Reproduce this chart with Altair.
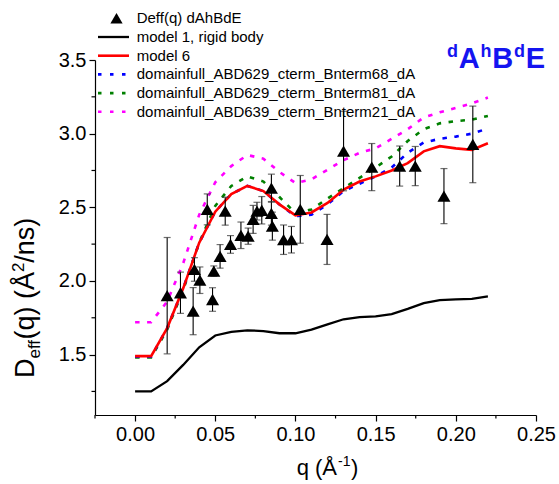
import altair as alt
import pandas as pd

# ---------------- data ----------------
q_data = [0.0200, 0.0283, 0.0362, 0.0370, 0.0404, 0.0450, 0.0483, 0.0491, 0.0530, 0.0562,
          0.0595, 0.0660, 0.0705, 0.0736, 0.0760, 0.0790, 0.0850, 0.0850, 0.0856, 0.0926,
          0.0975, 0.1030, 0.1197, 0.1300, 0.1476, 0.1650, 0.1747, 0.1926, 0.2106]
d_data = [1.900, 1.920, 1.795, 2.078, 2.005, 2.486, 1.874, 2.067, 2.167, 2.474,
          2.248, 2.310, 2.304, 2.418, 2.474, 2.480, 2.630, 2.459, 2.372, 2.280,
          2.280, 2.486, 2.282, 2.882, 2.773, 2.780, 2.780, 2.576, 2.927]
d_err = [0.395, 0.140, 0.160, 0.080, 0.090, 0.105, 0.080, 0.035, 0.080, 0.095,
         0.060, 0.090, 0.055, 0.095, 0.060, 0.093, 0.095, 0.080, 0.095, 0.100,
         0.090, 0.230, 0.170, 0.270, 0.160, 0.136, 0.133, 0.187, 0.260]

q_model = [0.00, 0.01, 0.02, 0.03, 0.04, 0.05, 0.06, 0.07, 0.08, 0.09, 0.10, 0.11,
           0.12, 0.13, 0.14, 0.15, 0.16, 0.17, 0.18, 0.19, 0.20, 0.21, 0.22]
m1 = [1.25, 1.25, 1.32, 1.43, 1.55, 1.63, 1.655, 1.665, 1.66, 1.645, 1.645, 1.67,
      1.705, 1.74, 1.755, 1.76, 1.775, 1.81, 1.85, 1.87, 1.875, 1.878, 1.895]
m6 = [1.49, 1.49, 1.68, 1.95, 2.26, 2.47, 2.59, 2.645, 2.61, 2.52, 2.445, 2.465,
      2.53, 2.62, 2.675, 2.71, 2.75, 2.80, 2.88, 2.915, 2.90, 2.89, 2.935]
m68 = [1.485, 1.485, 1.68, 1.95, 2.26, 2.47, 2.59, 2.645, 2.61, 2.52, 2.44, 2.45,
       2.52, 2.61, 2.66, 2.71, 2.77, 2.87, 2.94, 2.965, 2.98, 3.00, 3.035]
m81 = [1.48, 1.48, 1.67, 1.94, 2.26, 2.51, 2.645, 2.71, 2.675, 2.57, 2.46, 2.485,
       2.56, 2.63, 2.70, 2.77, 2.845, 2.95, 3.03, 3.07, 3.085, 3.095, 3.12]
m21 = [1.72, 1.72, 1.86, 2.12, 2.45, 2.67, 2.78, 2.855, 2.83, 2.74, 2.665, 2.69,
       2.755, 2.82, 2.87, 2.90, 2.965, 3.03, 3.11, 3.145, 3.175, 3.205, 3.245]

points_label = "Deff(q) dAhBdE"
series_names = ["model 1, rigid body", "model 6",
                "domainfull_ABD629_cterm_Bnterm68_dA",
                "domainfull_ABD629_cterm_Bnterm81_dA",
                "domainfull_ABD639_cterm_Bnterm21_dA"]
series_values = [m1, m6, m68, m81, m21]

x_ticks = [0.00, 0.05, 0.10, 0.15, 0.20, 0.25]
x_minor = [-0.025, 0.025, 0.075, 0.125, 0.175, 0.225]
y_ticks = [1.5, 2.0, 2.5, 3.0, 3.5]
y_minor = [1.25, 1.75, 2.25, 2.75, 3.25]

# ---------------- styles ----------------
colors = ["#000000", "#FF0000", "#0000FF", "#008000", "#FF00FF"]
dashes = [None, None, [4.5, 7.5], [4.5, 7.5], [4.5, 7.5]]
widths = [2.3, 2.6, 2.6, 2.6, 2.6]
FONT = "Liberation Sans"
W, H = 441, 355

xscale = alt.Scale(domain=[-0.025, 0.25], nice=False, zero=False)
yscale = alt.Scale(domain=[1.09, 3.5], nice=False, zero=False)

xaxis = alt.Axis(values=x_ticks, format=".2f", title=None, grid=False, labelFlush=False,
                 labelOverlap=False, tickSize=6, labelPadding=3)
yaxis = alt.Axis(values=y_ticks, format=".1f", title=None, grid=False, labelFlush=False,
                 labelOverlap=False, tickSize=6, labelPadding=3)


def X(field):
    return alt.X(field, scale=xscale, axis=xaxis)


def Y(field):
    return alt.Y(field, scale=yscale, axis=yaxis)


pts = pd.DataFrame({"q": q_data, "D": d_data, "err": d_err})
pts["lo"] = pts["D"] - pts["err"]
pts["hi"] = pts["D"] + pts["err"]

layers = []

# model lines, dashed first
order = [4, 3, 2, 0, 1]
for i in order:
    df = pd.DataFrame({"q": q_model, "D": series_values[i]})
    mk = dict(color=colors[i], strokeWidth=widths[i])
    if dashes[i]:
        mk["strokeDash"] = dashes[i]
    layers.append(alt.Chart(df).mark_line(**mk).encode(x=X("q:Q"), y=Y("D:Q")))

# minor ticks
layers.append(alt.Chart(pd.DataFrame({"q": x_minor})).mark_rule(color="black", strokeWidth=1.2).encode(
    x=X("q:Q"), y=alt.value(H), y2=alt.value(H + 3.5)))
layers.append(alt.Chart(pd.DataFrame({"D": y_minor})).mark_rule(color="black", strokeWidth=1.2).encode(
    y=Y("D:Q"), x=alt.value(0), x2=alt.value(-3.5)))

# error bars
layers.append(alt.Chart(pts).mark_rule(color="black", strokeWidth=1.1).encode(
    x=X("q:Q"), y=Y("lo:Q"), y2="hi:Q"))
for c in ["lo", "hi"]:
    layers.append(alt.Chart(pts).mark_tick(orient="horizontal", size=7, thickness=1.2, color="#333333").encode(
        x=X("q:Q"), y=Y(f"{c}:Q")))

# triangles
layers.append(alt.Chart(pts).mark_point(shape="triangle-up", filled=True, size=170, color="black", opacity=1).encode(
    x=X("q:Q"), y=Y("D:Q")))

one = pd.DataFrame({"a": [0]})

# legend (manual)
LX0, LX1, LTX, LY0, LDY = 3, 34, 41.7, -41.7, 18.7
layers.append(alt.Chart(one).mark_point(shape="triangle-up", filled=True, size=150, color="black", opacity=1).encode(
    x=alt.value((LX0 + LX1) / 2 + 3), y=alt.value(LY0)))
labels = [points_label] + series_names
for k, lab in enumerate(labels):
    yy = LY0 + k * LDY
    layers.append(alt.Chart(one).mark_text(text=lab, font=FONT, fontSize=15, align="left",
                                           baseline="middle", color="black").encode(
        x=alt.value(LTX), y=alt.value(yy)))
    if k > 0:
        i = k - 1
        mk = dict(color=colors[i], strokeWidth=widths[i])
        if dashes[i]:
            mk["strokeDash"] = [3.5, 8.5]
        layers.append(alt.Chart(one).mark_rule(**mk).encode(
            x=alt.value(LX0), x2=alt.value(LX1), y=alt.value(yy)))

# label "dAhBdE" with superscripts
blue = "#1414F0"
BIG, SMALL = 29, 18
bold_w = {"d": 0.611, "h": 0.611, "A": 0.722, "B": 0.722, "E": 0.667}
title_parts = [("d", SMALL, -3.5), ("A", BIG, 7.5), ("h", SMALL, -3.5),
               ("B", BIG, 7.5), ("d", SMALL, -3.5), ("E", BIG, 7.5)]
tx = 447 - 95
for txt, fs, by in title_parts:
    layers.append(alt.Chart(one).mark_text(text=txt, font=FONT, fontSize=fs, fontWeight="bold",
                                           align="left", baseline="alphabetic", color=blue).encode(
        x=alt.value(tx), y=alt.value(by)))
    tx += bold_w[txt] * fs + 0.8

# x title: q (Å^-1)
xt = [("q (Å", 22, 296.7 - 95, 475 - 60), ("-1", 14, 338 - 95, 466 - 60), (")", 22, 351 - 95, 475 - 60)]
for txt, fs, ax, by in xt:
    layers.append(alt.Chart(one).mark_text(text=txt, font=FONT, fontSize=fs, align="left",
                                           baseline="alphabetic", color="black").encode(
        x=alt.value(ax), y=alt.value(by)))

# y title: D_eff(q) (Å^2/ns), rotated
YF, YS = 27, 17
yt_base = 34 - 95
y_start = 378 - 60
parts = [("D", YF, 0), ("eff", YS, 6), ("(q) (Å", YF, 0), ("2", YS, -10), ("/ns)", YF, 0)]
w = {"D": 0.722 * YF, "eff": 1.112 * YS, "(q) (Å": 2.5 * YF, "2": 0.556 * YS, "/ns)": 1.667 * YF}
pos = y_start
for txt, fs, dx in parts:
    layers.append(alt.Chart(one).mark_text(text=txt, font=FONT, fontSize=fs, align="left", angle=270,
                                           baseline="alphabetic", color="black").encode(
        x=alt.value(yt_base + dx), y=alt.value(pos)))
    pos -= w[txt]

chart = alt.layer(*layers).properties(
    width=W, height=H, autosize="none", background="white",
    padding={"left": 95, "top": 60, "right": 559 - 95 - W, "bottom": 484 - 60 - H}
).configure_view(stroke=None).configure_axis(
    labelFont=FONT, labelFontSize=20, labelColor="black", domainColor="black",
    tickColor="black", domainWidth=1.2, tickWidth=1.2
)

chart.save("out.html", embed_options={"renderer": "svg", "actions": False})
